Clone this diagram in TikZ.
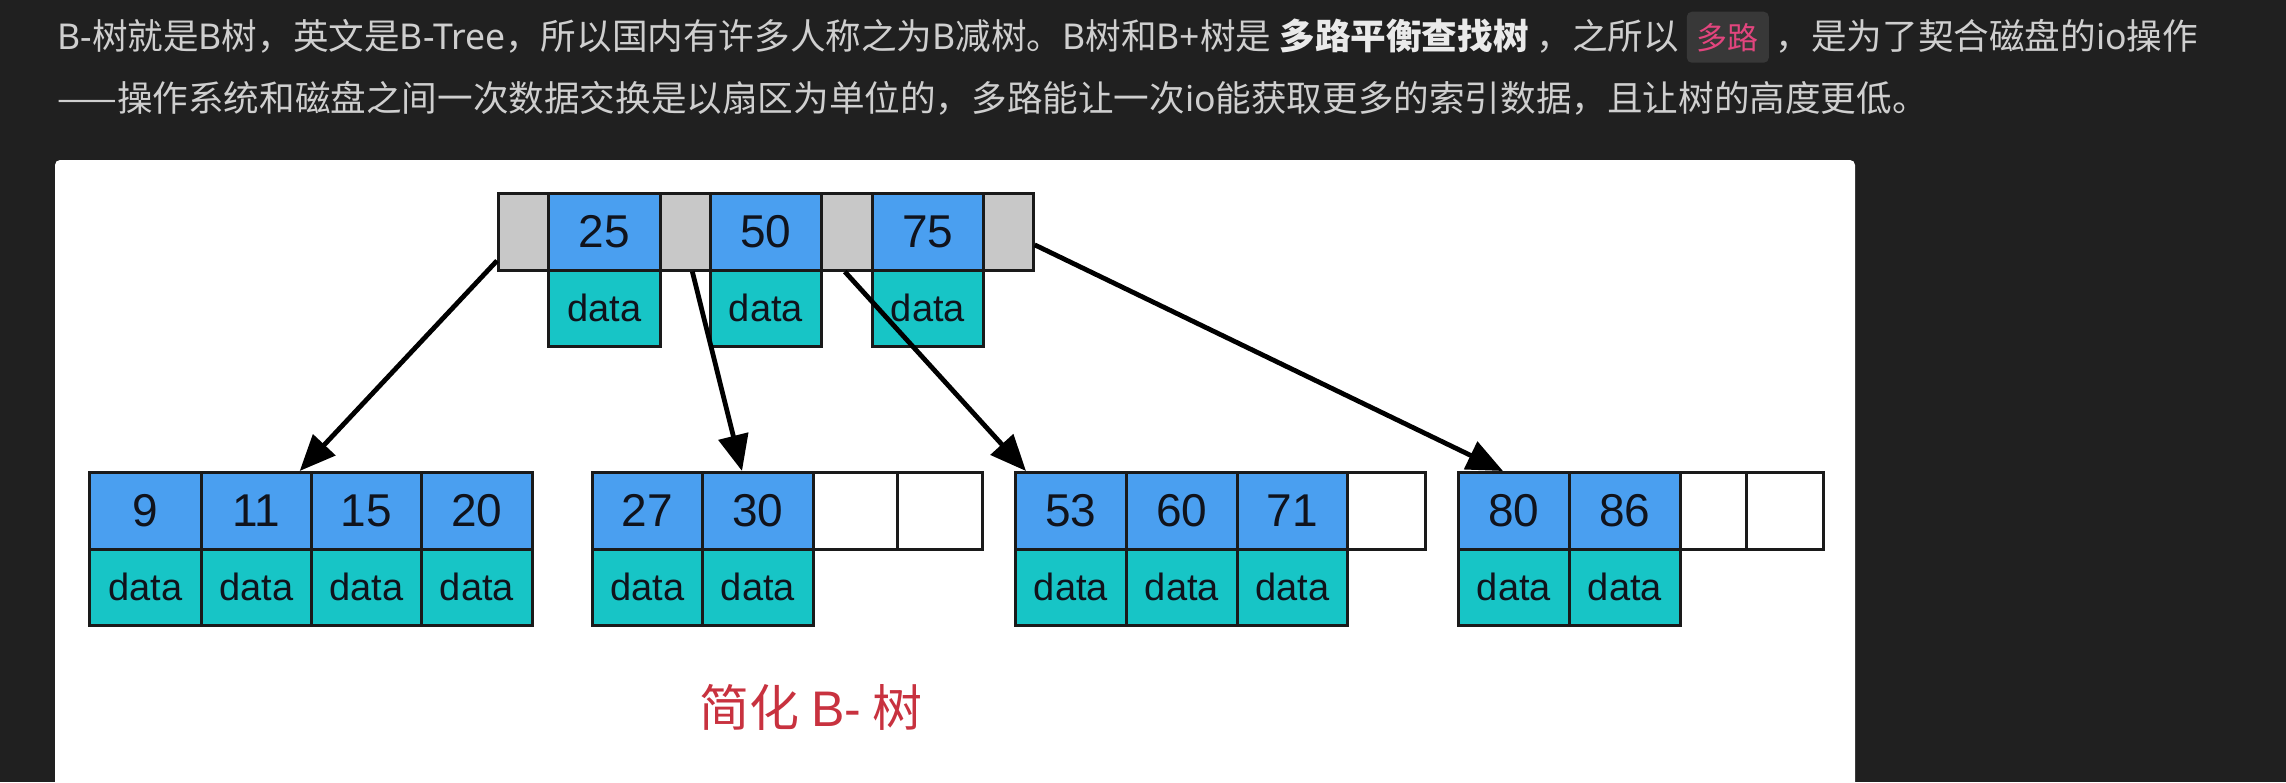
\documentclass[tikz,border=0pt]{standalone}
\usepackage{fontspec}
\setmainfont{Noto Sans CJK SC}
\newfontfamily\latfont{Noto Sans}
\newfontfamily\arialfont{Liberation Sans}
\newcommand\la[1]{{\latfont #1}}
\usetikzlibrary{arrows.meta}
\definecolor{bg}{HTML}{202020}
\definecolor{txt}{HTML}{CFCFCF}
\definecolor{txtb}{HTML}{EAEAEA}
\definecolor{codebg}{HTML}{383838}
\definecolor{codepink}{HTML}{E2457E}
\definecolor{keyblue}{HTML}{4A9FF0}
\definecolor{datteal}{HTML}{17C5C6}
\definecolor{gapgray}{HTML}{C8C8C8}
\definecolor{cellline}{HTML}{1A1A1A}
\definecolor{celltext}{HTML}{10131C}
\definecolor{capred}{HTML}{C8323F}
\tikzset{
  cell/.style={draw=cellline, line width=1.35pt, inner sep=0pt, anchor=north west,
    text=celltext, font=\arialfont\fontsize{23}{23}\selectfont},
  keycell/.style={cell, fill=keyblue, minimum height=38.5pt},
  gapcell/.style={cell, fill=gapgray, minimum height=38.5pt},
  vacant/.style={cell, fill=white, minimum height=38.5pt},
  datacell/.style={cell, fill=datteal, minimum height=38pt, font=\arialfont\fontsize{19}{19}\selectfont},
  cw/.style={minimum width=#1*0.5pt},
  arr/.style={draw=black, line width=2.4pt, -{Triangle[length=18pt,width=15pt]}},
  topline/.style={anchor=base west, inner sep=0pt, text=txt, font=\fontsize{17.8}{17.8}\selectfont},
  codebox/.style={anchor=base west, fill=codebg, rounded corners=2.5pt, text=codepink,
    font=\fontsize{15.5}{15.5}\selectfont, inner xsep=5pt, inner ysep=0pt, minimum height=25.5pt}
}
\begin{document}
\begin{tikzpicture}[x=0.5pt,y=-0.5pt]
\fill[bg] (0,0) rectangle (2286,782);
\useasboundingbox (0,0) rectangle (2286,782);
% white panel
\fill[white, rounded corners=2.5pt] (55,160) rectangle (1855,830);

% top text
\node[topline] (t1a) at (57,49) {\la{B-}树就是\la{B}树，英文是\la{B-Tree}，所以国内有许多人称之为\la{B}减树。\la{B}树和\la{B+}树是 {\bfseries\color{txtb}多路平衡查找树} ，之所以};
\node[codebox] (t1c) at ([xshift=3.5pt]t1a.base east) {多路};
\node[topline] (t1b) at ([xshift=3pt]t1c.base east) {，是为了契合磁盘的\la{io}操作};
\node[topline] (t2) at (57,111) {——操作系统和磁盘之间一次数据交换是以扇区为单位的，多路能让一次\la{io}能获取更多的索引数据，且让树的高度更低。};

% root node
\node[gapcell, cw=50]  (g1)  at (497,192) {};
\node[keycell, cw=112] (r25) at (547,192) {25};
\node[gapcell, cw=50]  (g2)  at (659,192) {};
\node[keycell, cw=111] (r50) at (709,192) {50};
\node[gapcell, cw=51]  (g3)  at (820,192) {};
\node[keycell, cw=111] (r75) at (871,192) {75};
\node[gapcell, cw=50]  (g4)  at (982,192) {};
\node[datacell, cw=112] (rd25) at (547,269) {data};
\node[datacell, cw=111] (rd50) at (709,269) {data};
\node[datacell, cw=111] (rd75) at (871,269) {data};

% leaf 1
\node[keycell, cw=112] (k9)  at (88,471)  {9};
\node[keycell, cw=110] (k11) at (200,471) {11};
\node[keycell, cw=110] (k15) at (310,471) {15};
\node[keycell, cw=111] (k20) at (420,471) {20};
\node[datacell, cw=112] (d9)  at (88,548)  {data};
\node[datacell, cw=110] (d11) at (200,548) {data};
\node[datacell, cw=110] (d15) at (310,548) {data};
\node[datacell, cw=111] (d20) at (420,548) {data};

% leaf 2
\node[keycell, cw=110] (k27) at (591,471) {27};
\node[keycell, cw=111] (k30) at (701,471) {30};
\node[vacant, cw=84]   (e2a) at (812,471) {};
\node[vacant, cw=85]   (e2b) at (896,471) {};
\node[datacell, cw=110] (d27) at (591,548) {data};
\node[datacell, cw=111] (d30) at (701,548) {data};

% leaf 3
\node[keycell, cw=111] (k53) at (1014,471) {53};
\node[keycell, cw=111] (k60) at (1125,471) {60};
\node[keycell, cw=110] (k71) at (1236,471) {71};
\node[vacant, cw=78]   (e3)  at (1346,471) {};
\node[datacell, cw=111] (d53) at (1014,548) {data};
\node[datacell, cw=111] (d60) at (1125,548) {data};
\node[datacell, cw=110] (d71) at (1236,548) {data};

% leaf 4
\node[keycell, cw=111] (k80) at (1457,471) {80};
\node[keycell, cw=111] (k86) at (1568,471) {86};
\node[vacant, cw=66]   (e4a) at (1679,471) {};
\node[vacant, cw=77]   (e4b) at (1745,471) {};
\node[datacell, cw=111] (d80) at (1457,548) {data};
\node[datacell, cw=111] (d86) at (1568,548) {data};

% arrows
\draw[arr] ([yshift=5.5pt]g1.south west) -- ([xshift=-6.5pt]k11.north east);
\draw[arr] ([xshift=3.5pt]g2.south) -- ([xshift=20.5pt]k30.north west);
\draw[arr] ([xshift=-1pt]g3.south) -- ([xshift=6pt]k53.north west);
\draw[arr] ([yshift=-6.5pt]g4.east) -- ([xshift=23pt]k80.north west);

% caption
\node[text=capred, font=\fontsize{25}{25}\selectfont, inner sep=0pt] (cap) at (811,707) {简化 {\arialfont B-} 树};
\end{tikzpicture}
\end{document}
